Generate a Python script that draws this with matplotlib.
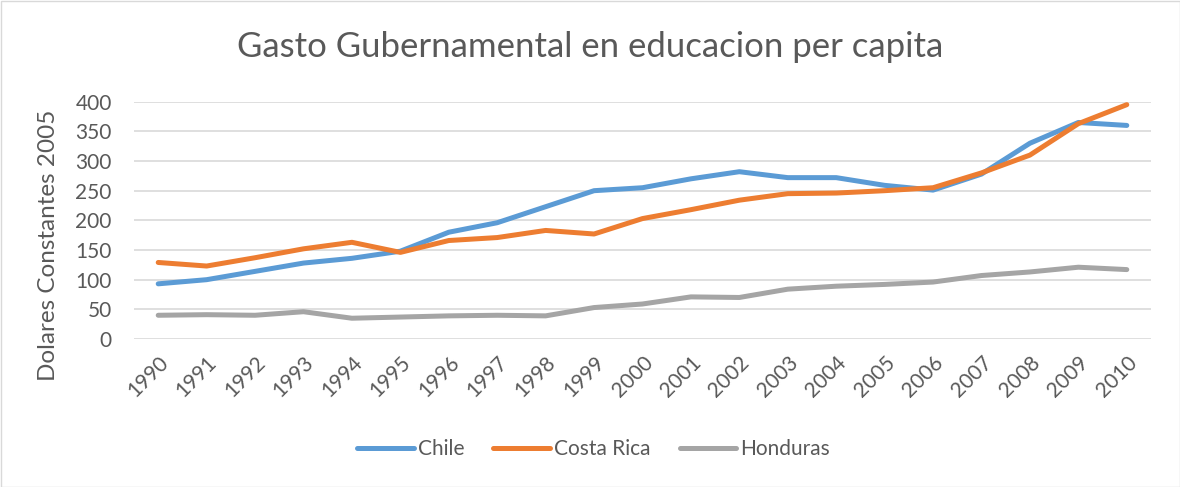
import matplotlib
matplotlib.use('Agg')
import matplotlib.pyplot as plt
from matplotlib.patches import Rectangle

plt.rcParams['font.family'] = ['Lato', 'DejaVu Sans']

years = [str(y) for y in range(1990, 2011)]
chile = [93, 100, 114, 128, 136, 148, 180, 196, 223, 250, 255, 270, 282, 272, 272, 259, 251, 278, 330, 365, 360]
costa_rica = [129, 123, 137, 152, 163, 146, 166, 171, 183, 177, 203, 218, 234, 245, 246, 250, 255, 280, 310, 363, 395]
honduras = [40, 41, 40, 46, 35, 37, 39, 40, 39, 53, 59, 71, 70, 84, 89, 92, 96, 107, 113, 121, 117]

txt = '#595959'

fig = plt.figure(figsize=(11.8, 4.87), dpi=100)
ax = fig.add_axes([134/1180, 1 - 339/487, (1151-134)/1180, (339-101.7)/487])

x = range(len(years))
ax.plot(x, chile, color='#5B9BD5', lw=3.6, label='Chile', solid_capstyle='round')
ax.plot(x, costa_rica, color='#ED7D31', lw=3.6, label='Costa Rica', solid_capstyle='round')
ax.plot(x, honduras, color='#A5A5A5', lw=3.6, label='Honduras', solid_capstyle='round')

ax.set_xlim(-0.5, len(years) - 0.5)
ax.set_ylim(0, 400)
ax.set_yticks(range(0, 401, 50))
ax.set_xticks(list(x))
ax.set_xticklabels(years, rotation=45, ha='right', rotation_mode='anchor')
ax.tick_params(axis='both', length=0, labelsize=15, colors=txt)
ax.tick_params(axis='y', pad=16)
ax.tick_params(axis='x', pad=10)
ax.grid(axis='y', color='#D9D9D9', lw=1.2)
ax.set_axisbelow(True)
for s in ax.spines.values():
    s.set_visible(False)

ax.set_ylabel('Dolares Constantes 2005', fontsize=17.5, color=txt)
ax.yaxis.set_label_coords((59 - 134) / 1017, (339 - 245) / 237.3)
fig.text(0.5, 1 - 47/487, 'Gasto Gubernamental en educacion per capita',
         ha='center', va='center', fontsize=25, color=txt)

# legend centred on the figure, not the plot area
fig.legend(loc='center', bbox_to_anchor=(593.5 / 1180, 1 - 449 / 487), ncol=3,
           frameon=False, fontsize=15, labelcolor=txt, handlelength=2.7,
           handletextpad=0.2, columnspacing=1.4)

fig.patches.append(Rectangle((0.5/1180, 0.5/487), 1 - 1/1180, 1 - 1/487,
                             transform=fig.transFigure, fill=False,
                             edgecolor='#D9D9D9', lw=1))

fig.savefig('out.png', dpi=100)
